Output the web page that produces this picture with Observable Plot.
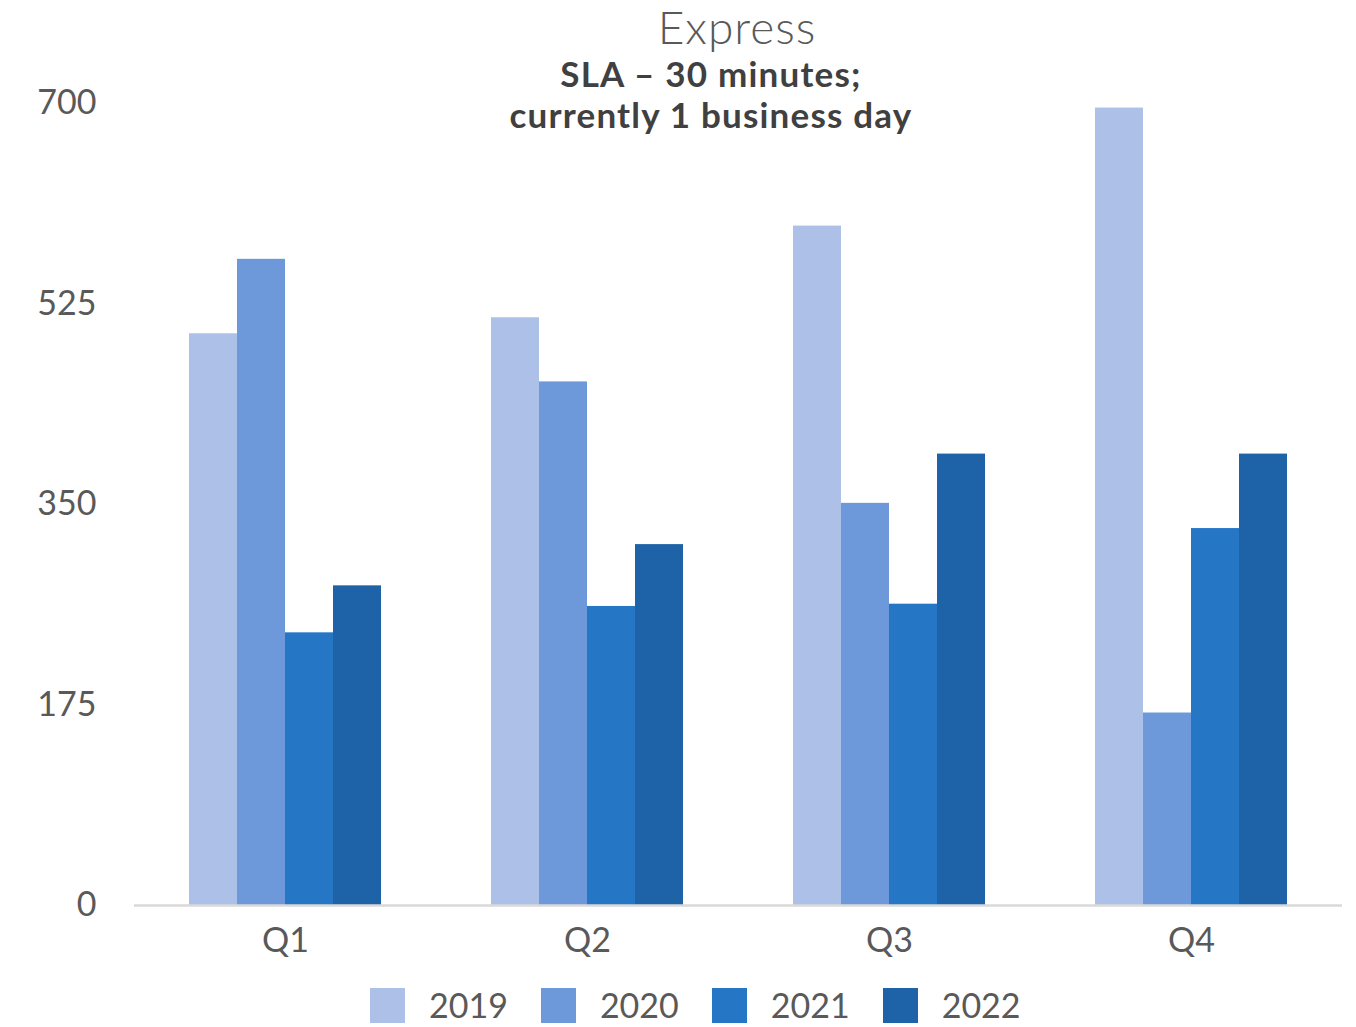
<!DOCTYPE html>
<html>
<head>
<meta charset="utf-8">
<script src="https://cdn.jsdelivr.net/npm/d3@7"></script>
<script src="https://cdn.jsdelivr.net/npm/@observablehq/plot@0.6"></script>
<style>
  html, body { margin: 0; padding: 0; background: #fff; }
  #wrap { position: relative; width: 1356px; height: 1027px; font-family: Lato, "Open Sans", sans-serif; }
  #chart { position: absolute; left: 0; top: 0; }
  .title { position: absolute; text-align: center; color: #595959; white-space: nowrap; width: 0; display: flex; justify-content: center; }
  #t1 { top: 9px; left: 737px; font-size: 46px; font-weight: 300; line-height: 36px; letter-spacing: 1px; }
  .sub { left: 711px; font-size: 35px; font-weight: 700; color: #404040; line-height: 35px; letter-spacing: 1.2px; }
  #t2 { top: 56px; }
  #t3 { top: 97px; }
  #legend { position: absolute; top: 986px; left: 370px; display: flex; align-items: center; }
  .item { display: flex; align-items: center; margin-right: 33px; }
  .sw { width: 35px; height: 35px; margin-right: 24px; }
  .lab { font-size: 34px; color: #595959; line-height: 38px; }
</style>
</head>
<body>
<div id="wrap">
  <div id="chart"></div>
  <div class="title" id="t1"><div>Express</div></div>
  <div class="title sub" id="t2"><div>SLA – 30 minutes;</div></div>
  <div class="title sub" id="t3"><div>currently 1 business day</div></div>
  <div id="legend"></div>
</div>
<script>
const quarters = ["Q1", "Q2", "Q3", "Q4"];
const years = ["2019", "2020", "2021", "2022"];
const values2019 = [499, 513, 593, 696];
const values2020 = [564, 457, 351, 168];
const values2021 = [238, 261, 263, 329];
const values2022 = [279, 315, 394, 394];
const colors = ["#ADC1E8", "#6D98DA", "#2676C6", "#1E63A7"];
const yTicks = [0, 175, 350, 525, 700];

const series = [values2019, values2020, values2021, values2022];
const data = [];
quarters.forEach((q, qi) => {
  years.forEach((yr, yi) => {
    data.push({quarter: q, year: yr, value: series[yi][qi]});
  });
});

const plot = Plot.plot({
  width: 1356,
  height: 970,
  marginTop: 103,
  marginBottom: 65,
  marginLeft: 133,
  marginRight: 14,
  style: {fontFamily: "Lato, 'Open Sans', sans-serif", background: "transparent"},
  fx: {domain: quarters, padding: 0, label: null},
  x: {domain: years, axis: null, paddingInner: 0, paddingOuter: 1.1},
  y: {domain: [0, 700], label: null},
  color: {domain: years, range: colors},
  marks: [
    Plot.barY(data, {fx: "quarter", x: "year", y: "value", fill: "year"}),
    Plot.ruleY([0], {stroke: "#D9D9D9", strokeWidth: 2.5}),
    Plot.axisY({ticks: yTicks, tickSize: 0, tickPadding: 38, label: null, fontSize: 34, fill: "#595959", tickFormat: d => String(d)}),
    Plot.axisFx({anchor: "bottom", tickSize: 0, tickPadding: 22, label: null, fontSize: 34, fill: "#595959"})
  ]
});
document.getElementById("chart").appendChild(plot);

const legend = document.getElementById("legend");
years.forEach((yr, i) => {
  const item = document.createElement("div");
  item.className = "item";
  const sw = document.createElement("div");
  sw.className = "sw";
  sw.style.background = colors[i];
  const lab = document.createElement("div");
  lab.className = "lab";
  lab.textContent = yr;
  item.appendChild(sw);
  item.appendChild(lab);
  legend.appendChild(item);
});
</script>
</body>
</html>
